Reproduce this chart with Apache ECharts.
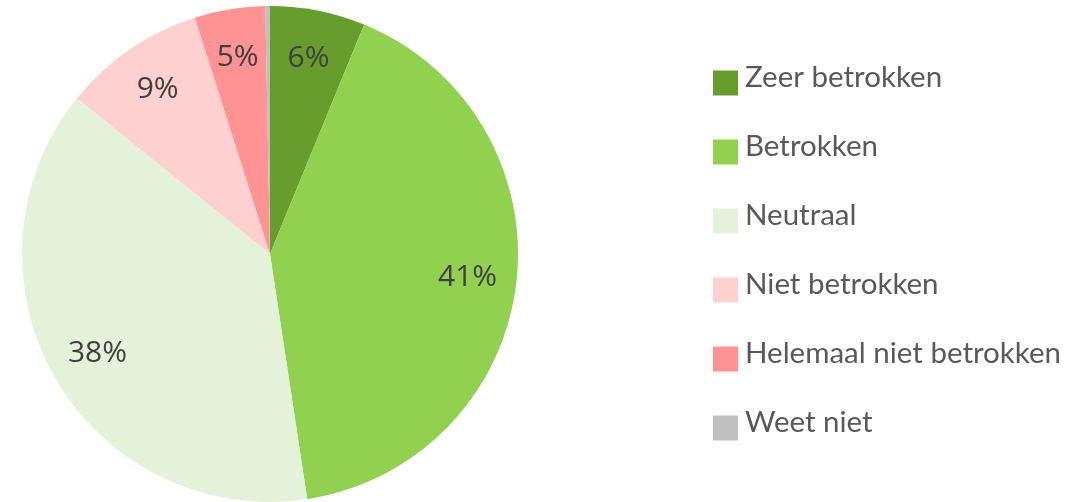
<!DOCTYPE html>
<html>
<head>
<meta charset="utf-8">
<script src="https://cdn.jsdelivr.net/npm/echarts@6/dist/echarts.min.js"></script>
<style>
  html, body { margin: 0; padding: 0; background: #fff; }
  #chartPie { width: 1084px; height: 502px; }
</style>
</head>
<body>
<div id="chartPie"></div>
<script>
// data (percentages)
var categories = ['Zeer betrokken', 'Betrokken', 'Neutraal', 'Niet betrokken', 'Helemaal niet betrokken', 'Weet niet'];
var values = [6.2, 41.4, 38.2, 9.3, 4.6, 0.3];
var colors = ['#669D2C', '#92D050', '#E3F2D9', '#FFD0D0', '#FF9393', '#BFBFBF'];

var pieData = categories.map(function (name, i) {
  return { name: name, value: values[i], itemStyle: { color: colors[i] } };
});

// same slices, invisible, only to carry the labels further out
var labelData = categories.map(function (name, i) {
  return { name: name, value: values[i] };
});

var chart = echarts.init(document.getElementById('chartPie'));
chart.setOption({
  animation: false,
  legend: {
    orient: 'vertical',
    left: 708,
    top: 57,
    data: categories,
    icon: 'rect',
    itemWidth: 25,
    itemHeight: 25,
    itemGap: 27,
    selectedMode: false,
    formatter: '{a|{name}}',
    textStyle: {
      rich: {
        a: {
          fontFamily: 'Lato',
          fontSize: 29.5,
          color: '#595959',
          lineHeight: 32,
          padding: [0, 0, 12, 2]
        }
      }
    }
  },
  series: [{
    name: 'pie',
    type: 'pie',
    center: [270, 254],
    radius: [0, 248],
    startAngle: 90,
    clockwise: true,
    label: { show: false },
    labelLine: { show: false },
    emphasis: { disabled: true },
    data: pieData
  }, {
    name: 'labels',
    type: 'pie',
    center: [270, 254],
    radius: [144, 248],
    startAngle: 90,
    clockwise: true,
    silent: true,
    itemStyle: { color: 'rgba(0,0,0,0)' },
    emphasis: { disabled: true },
    labelLine: { show: false },
    label: {
      show: true,
      position: 'inside',
      fontFamily: 'Open Sans',
      fontSize: 30,
      color: '#404040',
      formatter: function (p) {
        var r = Math.round(p.percent);
        return r < 1 ? '' : r + '%';
      }
    },
    data: labelData
  }]
});
</script>
</body>
</html>
